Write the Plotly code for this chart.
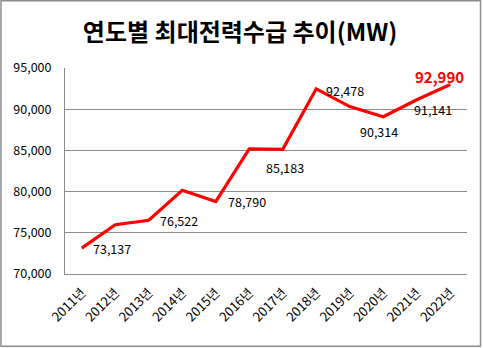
import plotly.graph_objects as go

# Annual peak power demand (MW)
years = ["2011년", "2012년", "2013년", "2014년", "2015년", "2016년",
         "2017년", "2018년", "2019년", "2020년", "2021년", "2022년"]
peak_mw = [73137, 75987, 76522, 80154, 78790, 85183,
           85133, 92478, 90314, 89091, 91141, 92990]

# Which points get a value label, and the pixel offset of each label
label_idx = [0, 2, 4, 5, 7, 8, 10, 11]
label_shift = {0: (30, 0), 2: (30, 0), 4: (31, 0), 5: (36, -19),
               7: (29, -2), 8: (29, -25), 10: (16, -10), 11: (-11, 8)}

y_ticks = [70000, 75000, 80000, 85000, 90000, 95000]

FONT = "Noto Sans CJK KR"
GRID = "#8c8c8c"

fig = go.Figure()
fig.add_trace(go.Scatter(
    x=years, y=peak_mw, mode="lines",
    line=dict(color="#ff0000", width=3.2),
    hoverinfo="skip", showlegend=False,
))

for i in label_idx:
    dx, dy = label_shift[i]
    last = i == len(years) - 1
    fig.add_annotation(
        x=years[i], y=peak_mw[i], text=f"{peak_mw[i]:,}",
        showarrow=False, xshift=dx, yshift=dy,
        font=dict(family=FONT, size=15 if last else 12.5,
                  color="#ff0000" if last else "#000000",
                  weight="bold" if last else "normal"),
    )

# outer frame of the chart
fig.add_shape(type="rect", xref="paper", yref="paper",
              x0=(1 - 65) / 402, x1=(480.5 - 65) / 402,
              y0=(274.3 - 346.5) / 206, y1=(274.3 - 1) / 206,
              line=dict(color="#8c8c8c", width=1.5), layer="below")

fig.update_layout(
    width=483, height=348,
    margin=dict(l=65, r=16, t=68, b=74),
    paper_bgcolor="white", plot_bgcolor="white",
    font=dict(family=FONT, size=12, color="#000000"),
    title=dict(text="<b>연도별 최대전력수급 추이(MW)</b>",
               x=0.497, xanchor="center", y=0.905, yanchor="middle",
               font=dict(family=FONT, size=24, color="#000000")),
    xaxis=dict(
        type="category", tickangle=-45, showgrid=False,
        showline=True, linecolor=GRID, linewidth=1,
        ticks="", ticklabelstandoff=5,
        tickfont=dict(family=FONT, size=13),
        range=[-0.5, len(years) - 0.5], fixedrange=True,
    ),
    yaxis=dict(
        range=[70000, 95000], tickvals=y_ticks,
        ticktext=[f"{v:,}" for v in y_ticks],
        showgrid=True, gridcolor=GRID, gridwidth=1,
        showline=True, linecolor=GRID, linewidth=1,
        zeroline=False, ticks="", ticklabelstandoff=10,
        tickfont=dict(family=FONT, size=12.5), fixedrange=True,
    ),
)

fig.write_html("out.html")
